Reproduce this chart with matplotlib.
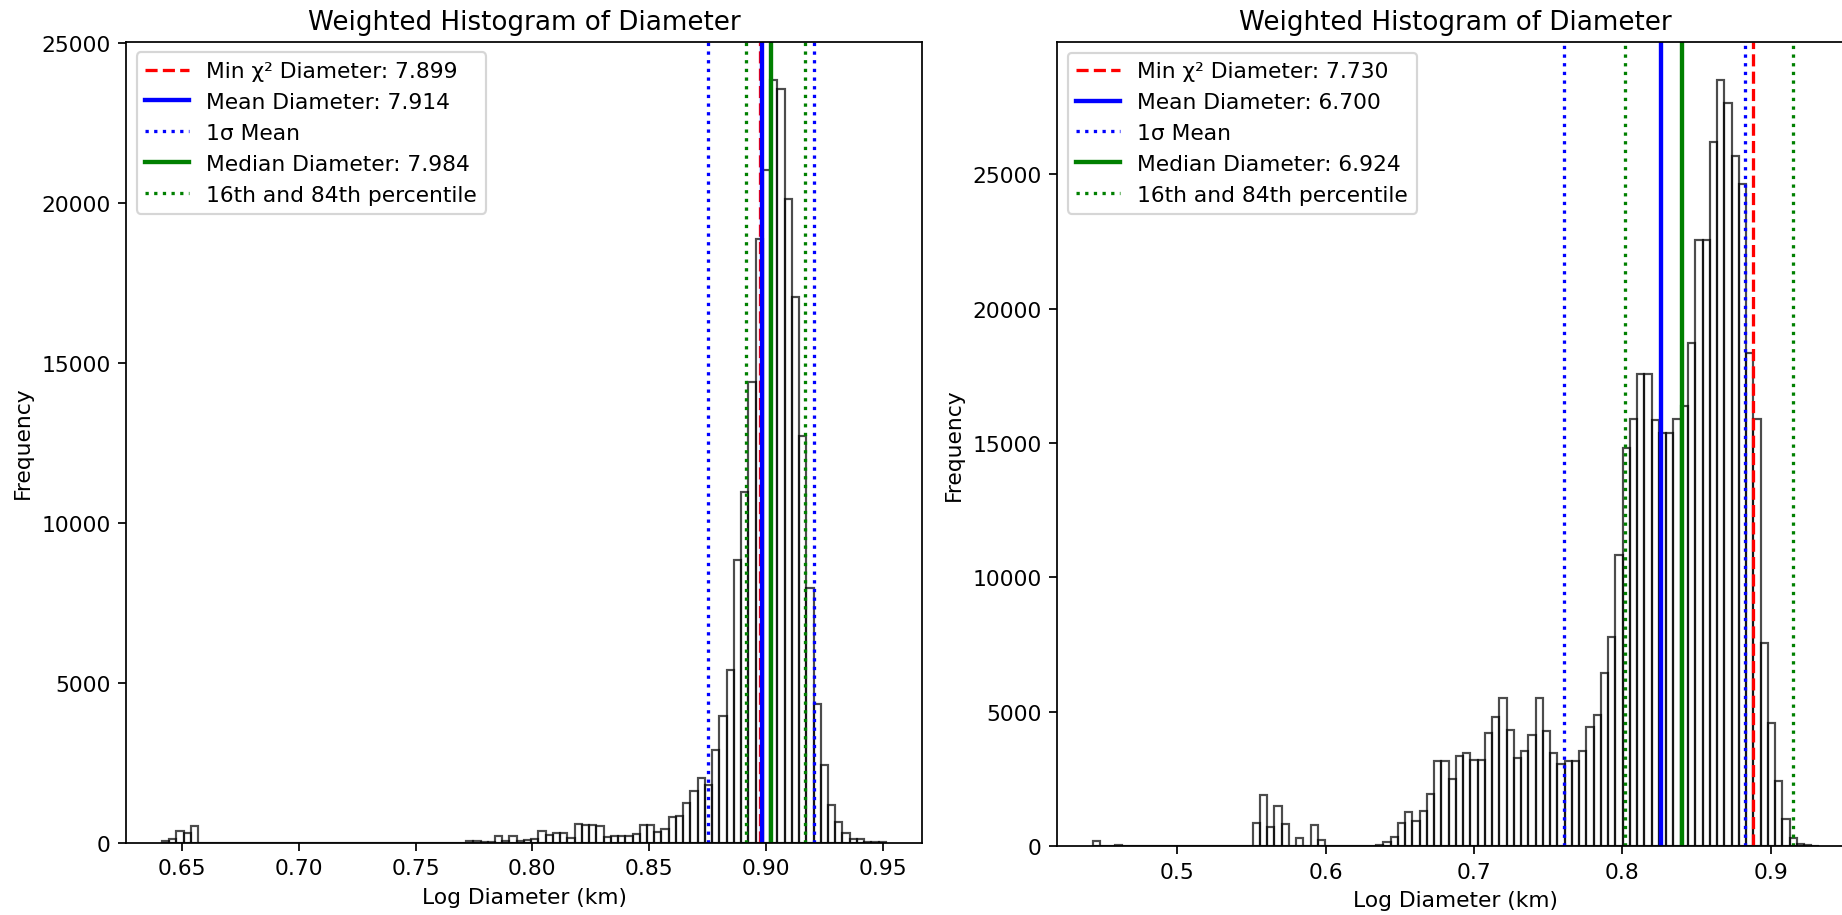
import numpy as np
import matplotlib
matplotlib.use("Agg")
import matplotlib.pyplot as plt

# weighted counts per bin (100 bins each)
left_range = (0.6415, 0.9513)
left_counts = [42, 104, 365, 313, 511] + [0] * 37 + [
    40, 55, 30, 10, 219, 63, 219, 42, 83, 115,
    375, 250, 313, 302, 156, 594, 553, 553, 521, 167,
    209, 219, 219, 282, 542, 542, 323, 428, 814, 845,
    1241, 1617, 2040, 1810, 2900, 3955, 5390, 8840, 10980, 14415,
    18900, 21030, 23866, 23570, 20135, 17084, 12727, 7980, 4350, 2430,
    1190, 655, 296, 110, 110, 33, 20, 20]

right_range = (0.4432, 0.9322)
right_counts = [198, 0, 0, 35] + [0] * 18 + [
    858, 1914, 733, 1504, 821, 0, 310, 0, 800, 230,
    0, 0, 0, 0, 0, 0, 15, 30, 172, 340,
    850, 1285, 940, 1330, 1951, 3171, 3171, 2511, 3357, 3481,
    3220, 3220, 4216, 4813, 5533, 4339, 3283, 3530, 4153, 5533,
    4277, 3469, 3071, 3158, 3171, 3544, 4439, 4899, 6430, 7780,
    10820, 14815, 15895, 17574, 17574, 15838, 15354, 15354, 15895, 16378,
    18733, 22554, 22554, 26200, 28500, 27650, 25680, 24640, 18330, 15880,
    7578, 4585, 2421, 1015, 298, 86, 30, 10]

# diameter statistics (km), lines are drawn at log10 of these
left_stats = {"chi2": 7.899, "mean": 7.914, "sigma": 0.412, "median": 7.984,
              "p16": 7.790, "p84": 8.254}
right_stats = {"chi2": 7.730, "mean": 6.700, "sigma": 0.934, "median": 6.924,
               "p16": 6.333, "p84": 8.221}


def draw_panel(ax, counts, rng, st):
    edges = np.linspace(rng[0], rng[1], len(counts) + 1)
    centers = (edges[:-1] + edges[1:]) / 2
    ax.hist(centers, bins=edges, weights=counts, facecolor='none',
            edgecolor='black', alpha=0.7, linewidth=1)

    ax.axvline(np.log10(st["chi2"]), color='red', linestyle='--', linewidth=1.5,
               label=f'Min χ² Diameter: {st["chi2"]:.3f}')
    ax.axvline(np.log10(st["mean"]), color='blue', linestyle='-', linewidth=2,
               label=f'Mean Diameter: {st["mean"]:.3f}')
    ax.axvline(np.log10(st["mean"] - st["sigma"]), color='blue', linestyle=':',
               linewidth=1.5, label='1σ Mean')
    ax.axvline(np.log10(st["mean"] + st["sigma"]), color='blue', linestyle=':',
               linewidth=1.5)
    ax.axvline(np.log10(st["median"]), color='green', linestyle='-', linewidth=2,
               label=f'Median Diameter: {st["median"]:.3f}')
    ax.axvline(np.log10(st["p16"]), color='green', linestyle=':', linewidth=1.5,
               label='16th and 84th percentile')
    ax.axvline(np.log10(st["p84"]), color='green', linestyle=':', linewidth=1.5)

    ax.set_title('Weighted Histogram of Diameter')
    ax.set_xlabel('Log Diameter (km)')
    ax.set_ylabel('Frequency')
    ax.legend(loc='upper left')


dpi = 157
fig = plt.figure(figsize=(1842 / dpi, 916 / dpi), dpi=dpi)
# the screenshot is cropped: right edge of 2nd panel is cut off
ax1 = fig.add_axes([0.0683, 0.0789, 0.4323, 0.8746])
ax2 = fig.add_axes([0.5737, 0.0750, 0.4333, 0.8784])

draw_panel(ax1, left_counts, left_range, left_stats)
draw_panel(ax2, right_counts, right_range, right_stats)

fig.savefig('out.png', dpi=dpi)
